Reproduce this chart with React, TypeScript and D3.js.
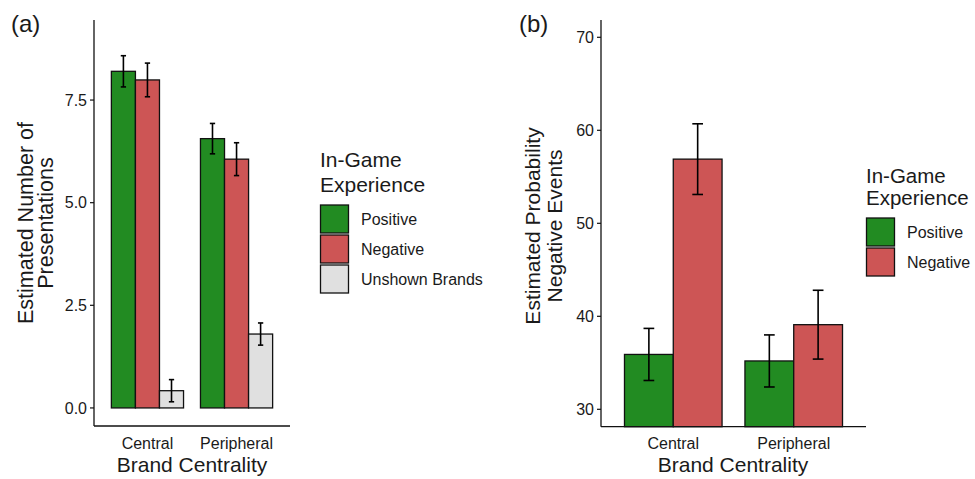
import React from "react";
import * as d3 from "d3";

const categories = ["Central", "Peripheral"];

const seriesA = ["Positive", "Negative", "Unshown Brands"];
const valuesA = [
  [8.2, 7.99, 0.42],
  [6.56, 6.06, 1.8],
];
const errorsA = [
  [0.38, 0.41, 0.27],
  [0.37, 0.4, 0.27],
];
const ticksA = [0, 2.5, 5, 7.5];

const seriesB = ["Positive", "Negative"];
const valuesB = [
  [35.9, 56.9],
  [35.2, 39.1],
];
const errorsB = [
  [2.8, 3.8],
  [2.8, 3.7],
];
const ticksB = [30, 40, 50, 60, 70];

const colors: Record<string, string> = {
  Positive: "#228B22",
  Negative: "#CD5555",
  "Unshown Brands": "#E0E0E0",
};

const FONT = "'Liberation Sans', Arial, sans-serif";
const TXT = "#1a1a1a";

type PanelProps = {
  label: string;
  labelX: number;
  x0: number;
  x1: number;
  yTop: number;
  yBottom: number;
  yDomain: [number, number];
  ticks: number[];
  tickFmt: (v: number) => string;
  series: string[];
  values: number[][];
  errors: number[][];
  yTitle: string[];
  yTitleX: number[];
  yTitleMid: number;
  yTitleSize: number;
  xTitleX: number;
  legendX: number;
  legendTitleY: number;
  legendTitleGap: number;
  legendTitleSize: number;
  legendKeyY: number;
};

function Panel(p: PanelProps) {
  const x = d3.scalePoint<string>().domain(categories).range([p.x0, p.x1]).padding(0.6);
  const y = d3.scaleLinear().domain(p.yDomain).range([p.yBottom, p.yTop]);
  const step = x.step();
  const groupW = step * 0.81;
  const bw = groupW / p.series.length;
  const capW = bw * 0.22;
  const keySize = 28;
  const keyStep = 30;
  return (
    <g fontFamily={FONT}>
      <text x={p.labelX} y={32} fontSize={24} fill={TXT}>{p.label}</text>
      {/* bars */}
      {categories.map((c, ci) =>
        p.series.map((s, si) => {
          const bx = (x(c) as number) - groupW / 2 + si * bw;
          const v = p.values[ci][si];
          const top = y(v);
          const base = Math.min(y(Math.max(0, p.yDomain[0])), p.yBottom);
          return (
            <rect key={c + s} x={bx} y={top} width={bw} height={base - top}
              fill={colors[s]} stroke="#111" strokeWidth={1.3} />
          );
        })
      )}
      {/* error bars */}
      {categories.map((c, ci) =>
        p.series.map((s, si) => {
          const cx = (x(c) as number) - groupW / 2 + (si + 0.5) * bw;
          const v = p.values[ci][si];
          const e = p.errors[ci][si];
          const yh = y(v + e);
          const yl = y(v - e);
          return (
            <g key={"e" + c + s} stroke="#000" strokeWidth={1.6}>
              <line x1={cx} x2={cx} y1={yh} y2={yl} />
              <line x1={cx - capW / 2} x2={cx + capW / 2} y1={yh} y2={yh} />
              <line x1={cx - capW / 2} x2={cx + capW / 2} y1={yl} y2={yl} />
            </g>
          );
        })
      )}
      {/* axes */}
      <line x1={p.x0} x2={p.x0} y1={p.yTop} y2={p.yBottom} stroke="#111" strokeWidth={1.3} />
      <line x1={p.x0} x2={p.x1} y1={p.yBottom} y2={p.yBottom} stroke="#111" strokeWidth={1.3} />
      {p.ticks.map((t) => (
        <g key={"t" + t}>
          <line x1={p.x0 - 4} x2={p.x0} y1={y(t)} y2={y(t)} stroke="#111" strokeWidth={1.2} />
          <text x={p.x0 - 7} y={y(t)} dy="0.36em" textAnchor="end" fontSize={16} fill={TXT}>
            {p.tickFmt(t)}
          </text>
        </g>
      ))}
      {categories.map((c) => (
        <text key={"xl" + c} x={x(c)} y={448.5} textAnchor="middle" fontSize={16} fill={TXT}>{c}</text>
      ))}
      <text x={p.xTitleX} y={472} textAnchor="middle" fontSize={21} fill={TXT}>Brand Centrality</text>
      {p.yTitle.map((t, i) => (
        <text key={"yt" + i} transform={`translate(${p.yTitleX[i]},${p.yTitleMid}) rotate(-90)`}
          textAnchor="middle" fontSize={p.yTitleSize} fill={TXT}>{t}</text>
      ))}
      {/* legend */}
      <text x={p.legendX} y={p.legendTitleY} fontSize={p.legendTitleSize} fill={TXT}>In-Game</text>
      <text x={p.legendX} y={p.legendTitleY + p.legendTitleGap} fontSize={p.legendTitleSize} fill={TXT}>Experience</text>
      {p.series.map((s, i) => (
        <g key={"lg" + s}>
          <rect x={p.legendX + 0.5} y={p.legendKeyY + i * keyStep} width={keySize} height={keySize}
            fill={colors[s]} stroke="#111" strokeWidth={1.3} />
          <text x={p.legendX + 41} y={p.legendKeyY + i * keyStep + keySize / 2} dy="0.36em"
            fontSize={16} fill={TXT}>{s}</text>
        </g>
      ))}
    </g>
  );
}

export default function App() {
  return (
    <div style={{ position: "absolute", left: 0, top: 0 }}>
      <svg width={975} height={479} style={{ display: "block", background: "#fff" }}>
        <Panel
          label="(a)" labelX={11}
          x0={94} x1={290} yTop={20} yBottom={426}
          yDomain={[-0.44, 9.45]} ticks={ticksA} tickFmt={(v) => d3.format(".1f")(v)}
          series={seriesA} values={valuesA} errors={errorsA}
          yTitle={["Estimated Number of", "Presentations"]} yTitleX={[33, 53]}
          yTitleMid={223} yTitleSize={21.5}
          xTitleX={192}
          legendX={320} legendTitleY={167} legendTitleGap={25} legendTitleSize={21} legendKeyY={205}
        />
        <Panel
          label="(b)" labelX={519}
          x0={601} x1={866} yTop={20} yBottom={426.7}
          yDomain={[28.13, 71.86]} ticks={ticksB} tickFmt={(v) => String(v)}
          series={seriesB} values={valuesB} errors={errorsB}
          yTitle={["Estimated Probability", "Negative Events"]} yTitleX={[540, 562]}
          yTitleMid={226} yTitleSize={21}
          xTitleX={733}
          legendX={866} legendTitleY={183} legendTitleGap={21.5} legendTitleSize={20.5} legendKeyY={218}
        />
      </svg>
    </div>
  );
}
